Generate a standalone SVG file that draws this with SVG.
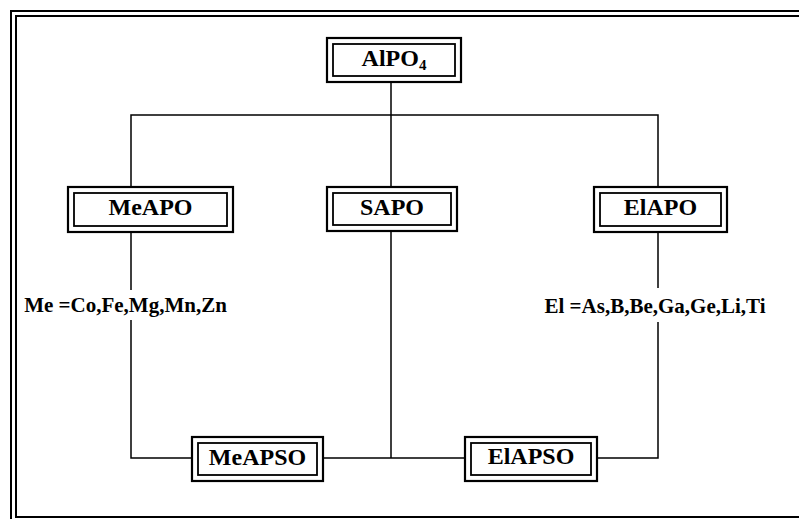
<svg xmlns="http://www.w3.org/2000/svg" width="799" height="519" viewBox="0 0 799 519">
<style>
.frame{fill:none;stroke:#000;stroke-width:2}
.ob{fill:#fff;stroke:#000;stroke-width:2.2}
.ib{fill:none;stroke:#000;stroke-width:1.8}
.t{font-weight:bold;font-size:24px;text-anchor:middle;fill:#000}
.lbl{font-weight:bold;font-size:21px;text-anchor:middle;fill:#000}
.c{fill:none;stroke:#000;stroke-width:1.5}
</style>
<rect width="799" height="519" fill="#fff"/>
<rect class="frame" x="11" y="11" width="820" height="540"/>
<rect class="frame" x="16" y="16" width="820" height="501"/>
<g id="connectors">
<path class="c" d="M391,82 V115 M131,187 V115 H658 V187 M391,115 V187"/>
<path class="c" d="M131,232 V290 M131,320 V458 H192"/>
<path class="c" d="M391,232 V458 M323,458 H465"/>
<path class="c" d="M658,232 V288 M658,322 V458 H597"/>
</g>
<g font-family="Liberation Serif, Times New Roman, Times, serif">
<g id="AlPO4">
<rect class="ob" x="327" y="38" width="134" height="44"/>
<rect class="ib" x="333" y="44" width="122" height="32"/>
<text class="t" x="394" y="66">AlPO<tspan font-size="15" dy="4">4</tspan></text>
</g>
<g id="MeAPO">
<rect class="ob" x="68" y="187" width="165" height="45"/>
<rect class="ib" x="74" y="193" width="153" height="33"/>
<text class="t" x="150.5" y="215">MeAPO</text>
</g>
<g id="SAPO">
<rect class="ob" x="327" y="187" width="130" height="44"/>
<rect class="ib" x="333" y="193" width="118" height="32"/>
<text class="t" x="392" y="215">SAPO</text>
</g>
<g id="ElAPO">
<rect class="ob" x="594" y="187" width="133" height="45"/>
<rect class="ib" x="600" y="193" width="121" height="33"/>
<text class="t" x="660.5" y="215">ElAPO</text>
</g>
<g id="MeAPSO">
<rect class="ob" x="192" y="437" width="131" height="44"/>
<rect class="ib" x="198" y="443" width="119" height="32"/>
<text class="t" x="257.5" y="465">MeAPSO</text>
</g>
<g id="ElAPSO">
<rect class="ob" x="465" y="437" width="132" height="44"/>
<rect class="ib" x="471" y="443" width="120" height="32"/>
<text class="t" x="531" y="464">ElAPSO</text>
</g>
<g id="labels">
<text class="lbl" x="125.5" y="312">Me =Co,Fe,Mg,Mn,Zn</text>
<text class="lbl" x="655" y="313">El =As,B,Be,Ga,Ge,Li,Ti</text>
</g>
</g>
</svg>
